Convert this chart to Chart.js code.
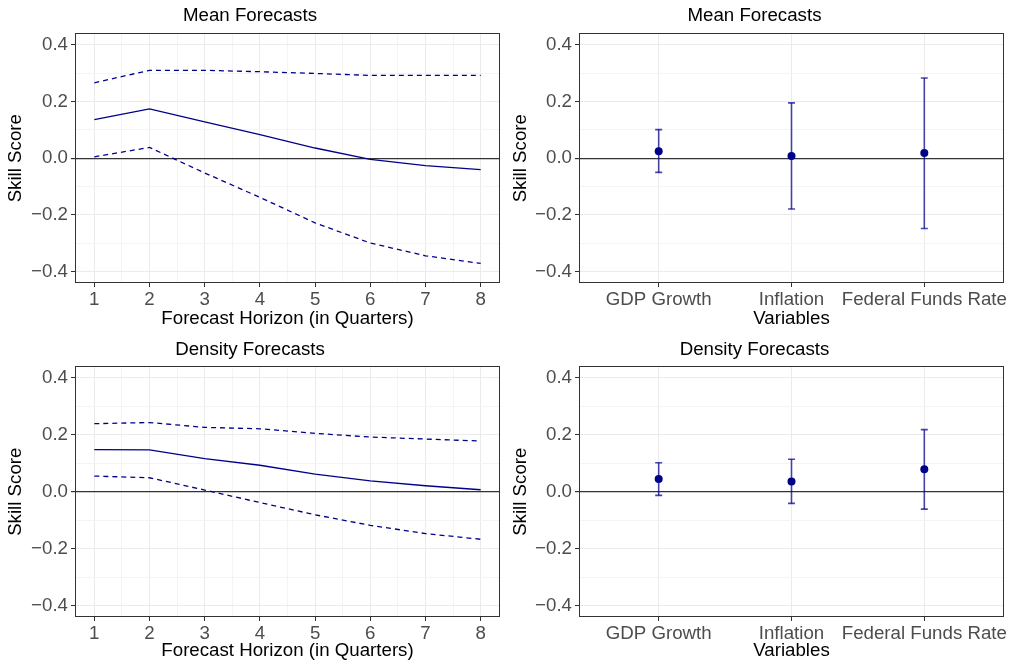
<!DOCTYPE html>
<html>
<head>
<meta charset="utf-8">
<script src="https://cdn.jsdelivr.net/npm/chart.js@4"></script>
<style>
  body { margin: 0; background: #fff; }
  .panel { position: absolute; }
</style>
</head>
<body>
<div class="panel" style="left:0;top:0;width:505px;height:332px"><canvas id="meanLine"></canvas></div>
<div class="panel" style="left:505px;top:0;width:506px;height:332px"><canvas id="meanBars"></canvas></div>
<div class="panel" style="left:0;top:332px;width:505px;height:332px"><canvas id="densLine"></canvas></div>
<div class="panel" style="left:505px;top:332px;width:506px;height:332px"><canvas id="densBars"></canvas></div>
<script>
// horizons 1..8
const horizons = [1, 2, 3, 4, 5, 6, 7, 8];

// Mean forecasts, skill score by horizon
const meanScore = [0.136, 0.174, 0.128, 0.083, 0.036, -0.004, -0.026, -0.040];
const meanUpper = [0.266, 0.310, 0.310, 0.305, 0.299, 0.292, 0.292, 0.292];
const meanLower = [0.005, 0.038, -0.052, -0.138, -0.228, -0.299, -0.344, -0.371];

// Density forecasts, skill score by horizon
const densScore = [0.148, 0.147, 0.116, 0.093, 0.062, 0.038, 0.021, 0.007];
const densUpper = [0.239, 0.243, 0.226, 0.221, 0.205, 0.192, 0.185, 0.178];
const densLower = [0.055, 0.049, 0.006, -0.038, -0.081, -0.118, -0.147, -0.167];

// by variable
const variables = ['GDP Growth', 'Inflation', 'Federal Funds Rate'];
const meanVarScore = [0.025, 0.008, 0.018];
const meanVarUpper = [0.101, 0.195, 0.283];
const meanVarLower = [-0.050, -0.179, -0.248];
const densVarScore = [0.045, 0.036, 0.079];
const densVarUpper = [0.102, 0.114, 0.218];
const densVarLower = [-0.013, -0.041, -0.061];

// ticks
const yMajorTicks = [-0.4, -0.2, 0, 0.2, 0.4];
const yMinorTicks = [-0.3, -0.1, 0.1, 0.3];
const xMajorTicks = horizons;
const xMinorTicks = [1.5, 2.5, 3.5, 4.5, 5.5, 6.5, 7.5];

const FONT = 'Liberation Sans, Arial, Helvetica, sans-serif';
const FS = 18.7;
const BLUE = '#00008B';

const isMajor = (list, v) => list.some(t => Math.abs(t - v) < 1e-9);
const fmt = v => (v < 0 ? '\u2212' : '') + Math.abs(v).toFixed(1);

// full panel border (ggplot theme_bw style)
const borderPlugin = {
  id: 'panelBorder',
  afterDraw(chart) {
    const a = chart.chartArea, ctx = chart.ctx;
    ctx.save();
    ctx.strokeStyle = '#333333';
    ctx.lineWidth = 1;
    ctx.strokeRect(Math.round(a.left) + 0.5, Math.round(a.top) + 0.5,
      Math.round(a.right - a.left) - 1, Math.round(a.bottom - a.top) - 1);
    ctx.restore();
  }
};

function yScale(width) {
  return {
    type: 'linear',
    min: -0.44, max: 0.44,
    afterBuildTicks(s) {
      s.ticks = yMajorTicks.concat(yMinorTicks).map(v => ({ value: v }));
    },
    afterFit(s) { s.width = width; s.paddingTop = 0; s.paddingBottom = 0; },
    ticks: {
      color: '#4D4D4D', font: { family: FONT, size: FS }, padding: 3,
      callback: v => isMajor(yMajorTicks, v) ? fmt(v) : ''
    },
    grid: {
      color: c => Math.abs(c.tick.value) < 1e-9 ? '#333333' : (isMajor(yMajorTicks, c.tick.value) ? '#EBEBEB' : '#F4F4F4'),
      lineWidth: c => Math.abs(c.tick.value) < 1e-9 ? 1.2 : 1,
      tickColor: c => isMajor(yMajorTicks, c.tick.value) ? '#333333' : 'rgba(0,0,0,0)',
      tickLength: 4
    },
    border: { display: false },
    title: { display: true, text: 'Skill Score', color: '#000', font: { family: FONT, size: FS }, padding: { top: 5, bottom: 0 } }
  };
}

function xLinearScale(height, min, max, major, minor, labelFn, titleText) {
  return {
    type: 'linear',
    min: min, max: max,
    afterBuildTicks(s) {
      s.ticks = major.concat(minor).map(v => ({ value: v }));
    },
    afterFit(s) { s.height = height; s.paddingLeft = 0; s.paddingRight = 0; },
    ticks: {
      color: '#4D4D4D', font: { family: FONT, size: FS }, padding: 2,
      autoSkip: false, maxRotation: 0,
      callback: v => isMajor(major, v) ? labelFn(v) : ''
    },
    grid: {
      color: c => isMajor(major, c.tick.value) ? '#EBEBEB' : '#F4F4F4',
      lineWidth: 1,
      tickColor: c => isMajor(major, c.tick.value) ? '#333333' : 'rgba(0,0,0,0)',
      tickLength: 4
    },
    border: { display: false },
    title: { display: true, text: titleText, color: '#000', font: { family: FONT, size: FS }, padding: { top: 0, bottom: 1.5 } }
  };
}

function baseOptions(p, xs) {
  return {
    responsive: false,
    animation: false,
    layout: { padding: { left: 0, right: p.right, top: 0, bottom: 0 } },
    plugins: {
      legend: { display: false },
      tooltip: { enabled: false },
      title: {
        display: true, text: p.title, color: '#000',
        font: { family: FONT, size: FS, weight: 'normal', lineHeight: 1.2 },
        padding: { top: p.titleTop, bottom: p.titleBottom }
      }
    },
    scales: { x: xs, y: yScale(p.left) }
  };
}

function lineChart(id, p, score, upper, lower) {
  const pts = arr => horizons.map((h, i) => ({ x: h, y: arr[i] }));
  const lineDs = (arr, dash) => ({
    data: pts(arr), showLine: true, borderColor: BLUE, borderWidth: 1.3,
    borderDash: dash, pointRadius: 0, fill: false
  });
  const el = document.getElementById(id);
  el.width = p.w; el.height = 332;
  new Chart(el, {
    type: 'scatter',
    data: { datasets: [lineDs(score, []), lineDs(upper, [5, 4]), lineDs(lower, [5, 4])] },
    options: baseOptions(p, xLinearScale(332 - p.bottom, 0.65, 8.35, xMajorTicks, xMinorTicks,
      v => String(v), 'Forecast Horizon (in Quarters)')),
    plugins: [borderPlugin]
  });
}

function barChart(id, p, score, upper, lower) {
  const pos = variables.map((v, i) => i + 1);
  const datasets = [{
    data: pos.map((x, i) => ({ x: x, y: score[i] })),
    pointRadius: 4, pointBackgroundColor: BLUE, pointBorderWidth: 0, showLine: false
  }];
  pos.forEach((x, i) => {
    datasets.push({
      data: [{ x: x, y: lower[i] }, { x: x, y: upper[i] }],
      showLine: true, borderColor: 'rgba(0,0,139,0.72)', borderWidth: 1.6,
      pointStyle: 'line', pointRadius: 3.5, pointBorderWidth: 1.6,
      pointBorderColor: 'rgba(0,0,139,0.72)'
    });
  });
  const el = document.getElementById(id);
  el.width = p.w; el.height = 332;
  new Chart(el, {
    type: 'scatter',
    data: { datasets: datasets },
    options: baseOptions(p, xLinearScale(332 - p.bottom, 0.4, 3.6, pos, [],
      v => variables[Math.round(v) - 1], 'Variables')),
    plugins: [borderPlugin]
  });
}

lineChart('meanLine', { w: 505, left: 75, right: 5, bottom: 283, title: 'Mean Forecasts', titleTop: 5, titleBottom: 6 },
  meanScore, meanUpper, meanLower);
barChart('meanBars', { w: 506, left: 74, right: 7, bottom: 283, title: 'Mean Forecasts', titleTop: 5, titleBottom: 6 },
  meanVarScore, meanVarUpper, meanVarLower);
lineChart('densLine', { w: 505, left: 75, right: 5, bottom: 285, title: 'Density Forecasts', titleTop: 6.5, titleBottom: 5.5 },
  densScore, densUpper, densLower);
barChart('densBars', { w: 506, left: 74, right: 7, bottom: 285, title: 'Density Forecasts', titleTop: 6.5, titleBottom: 5.5 },
  densVarScore, densVarUpper, densVarLower);
</script>
</body>
</html>
